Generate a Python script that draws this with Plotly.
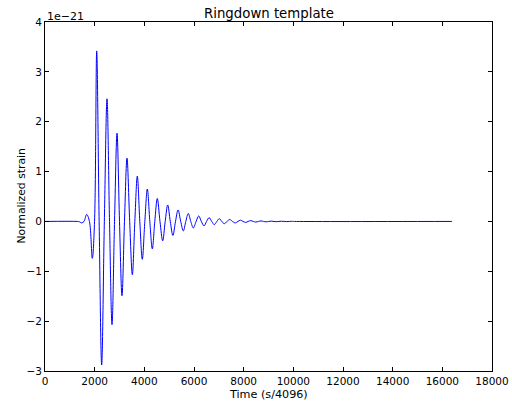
import plotly.graph_objects as go

# Ringdown waveform: extrema and zero crossings
# time in samples (s/4096), strain in units of 1e-21
time = [0, 1300, 1380, 1478, 1570, 1679, 1790, 1905, 1995, 2082, 2180, 2282, 2390, 2497,
        2598, 2698, 2800, 2900, 3000, 3100, 3200, 3302, 3410, 3517, 3617, 3717, 3818, 3918,
        4020, 4121, 4221, 4321, 4421, 4522, 4630, 4739, 4840, 4941, 5045, 5150, 5255, 5360,
        5465, 5570, 5670, 5770, 5870, 5972, 6085, 6190, 6295, 6403, 6505, 6610, 6715, 6818,
        6920, 7020, 7120, 7220, 7330, 7440, 7550, 7663, 7770, 7870, 7975, 8080, 8180, 8285,
        8390, 8490, 8595, 8700, 8800, 8905, 9010, 9110, 9215, 9320, 9420, 9525, 9630, 9735,
        9840, 9940, 10050, 16384]
strain = [0, 0, -0.005, -0.03, 0, 0.14, 0, -0.74, 0, 3.42, 0, -2.88, 0, 2.46,
          0, -2.07, 0, 1.77, 0, -1.49, 0, 1.27, 0, -1.07, 0, 0.91, 0, -0.76,
          0, 0.65, 0, -0.55, 0, 0.46, 0, -0.39, 0, 0.33, 0, -0.28, 0, 0.23,
          0, -0.19, 0, 0.16, 0, -0.13, 0, 0.11, 0, -0.09, 0, 0.075, 0, -0.065,
          0, 0.055, 0, -0.045, 0, 0.038, 0, -0.03, 0, 0.025, 0, -0.02, 0, 0.016,
          0, -0.013, 0, 0.01, 0, -0.008, 0, 0.006, 0, -0.005, 0, 0.004, 0, -0.003,
          0, 0.002, 0, 0]

x_ticks = list(range(0, 18001, 2000))
y_ticks = [-3, -2, -1, 0, 1, 2, 3, 4]

FONT = "DejaVu Sans"

fig = go.Figure()
fig.add_trace(go.Scatter(x=time, y=strain, mode="lines",
                         line=dict(color="#0000ff", width=1, shape="spline", smoothing=1.0),
                         showlegend=False, hoverinfo="skip"))

axis_common = dict(showline=True, linecolor="black", linewidth=1, mirror="ticks",
                   ticks="inside", ticklen=4, tickwidth=1, tickcolor="black",
                   showgrid=False, zeroline=False, automargin=False,
                   tickfont=dict(family=FONT, size=10.5, color="black"))

fig.update_xaxes(range=[0, 18000], tickvals=x_ticks, ticktext=[str(v) for v in x_ticks],
                 **axis_common)
fig.update_yaxes(range=[-3, 4], tickvals=y_ticks,
                 ticktext=[str(v).replace("-", "\u2212") for v in y_ticks], **axis_common)

annos = [
    dict(text="Ringdown template", x=0.5, y=1, xref="paper", yref="paper",
         xanchor="center", yanchor="middle", yshift=8.5, showarrow=False,
         font=dict(family=FONT, size=13.3, color="black")),
    dict(text="Time (s/4096)", x=0.5, y=0, xref="paper", yref="paper",
         xanchor="center", yanchor="top", yshift=-15, showarrow=False,
         font=dict(family=FONT, size=11.2, color="black")),
    dict(text="Normalized strain", x=0, y=0.5, xref="paper", yref="paper",
         xanchor="center", yanchor="middle", xshift=-24, textangle=-90, showarrow=False,
         font=dict(family=FONT, size=10.8, color="black")),
    dict(text="1e\u221221", x=0, y=1, xref="paper", yref="paper",
         xanchor="left", yanchor="middle", yshift=6, xshift=0, showarrow=False,
         font=dict(family=FONT, size=11, color="black")),
]

fig.update_layout(width=512, height=402, paper_bgcolor="white", plot_bgcolor="white",
                  margin=dict(l=45, r=20, t=22, b=31, autoexpand=False), annotations=annos,
                  font=dict(family=FONT, color="black"))

fig.write_html("out.html", config={"displayModeBar": False},
               post_script="document.body.style.margin='0';document.body.style.padding='0';")
